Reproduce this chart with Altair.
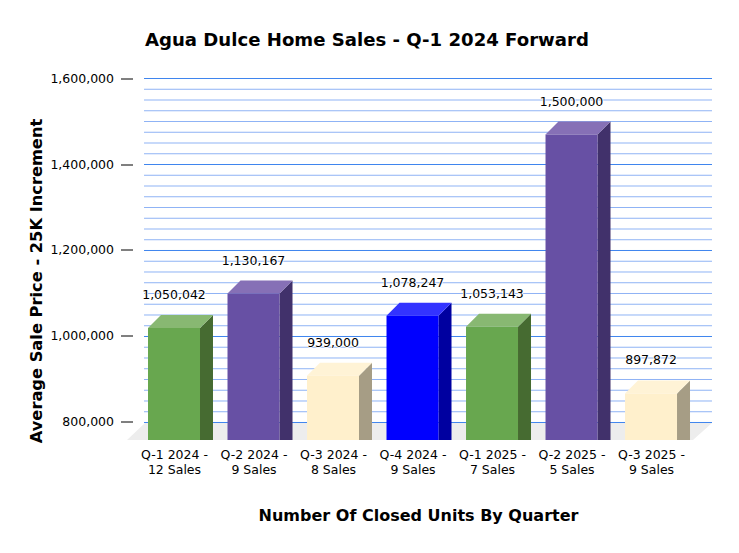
import json
import altair as alt
import pandas as pd

alt.data_transformers.disable_max_rows()

LINE1 = ["Q-1 2024 -", "Q-2 2024 -", "Q-3 2024 -", "Q-4 2024 -", "Q-1 2025 -", "Q-2 2025 -", "Q-3 2025 -"]
LINE2 = ["12 Sales", "9 Sales", "8 Sales", "9 Sales", "7 Sales", "5 Sales", "9 Sales"]
VALUES = [1050042, 1130167, 939000, 1078247, 1053143, 1500000, 897872]
FRONT = ["#68A74F", "#6750A4", "#FFF0CC", "#0000FF", "#68A74F", "#6750A4", "#FFF0CC"]
TOP = ["#88B872", "#8670B6", "#FFF3D6", "#3333FF", "#88B872", "#8670B6", "#FFF3D6"]
SIDE = ["#466B31", "#41316B", "#A69D85", "#0000A0", "#466B31", "#41316B", "#A69D85"]
MAJOR = [800000, 1000000, 1200000, 1400000, 1600000]
MINOR = [v for v in range(800000, 1600001, 25000) if v not in MAJOR]

HALF = 0.327      # half of a bar's width, in slots
DX = 0.1635       # depth of a bar, in slots
DY = 30233        # depth of a bar, in price units
FLOOR = 759302    # price value of the front floor edge
BACK = 798800     # price value of the back floor edge
WALL = (-0.377, 6.767)
FLOOR_X = (-0.591, -0.365, 6.528, 6.767)
X_DOM = [-0.5157, 6.767]
Y_DOM = [FLOOR, 1601163]

x_scale = alt.Scale(domain=X_DOM, nice=False, zero=False)
y_scale = alt.Scale(domain=Y_DOM, nice=False, zero=False)
FONT = "DejaVu Sans"

front = pd.DataFrame({
    "l": [i - HALF for i in range(7)], "r": [i + HALF for i in range(7)],
    "t": [v - DY for v in VALUES], "b": FLOOR, "c": FRONT,
})
side_rows, top_rows = [], []
for i, v in enumerate(VALUES):
    side_rows += [
        dict(id=i, x=i + HALF, y=v - DY, y2=FLOOR, c=SIDE[i]),
        dict(id=i, x=i + HALF + DX, y=v, y2=FLOOR, c=SIDE[i]),
    ]
    top_rows += [
        dict(id=i, x=i - HALF, y=v - DY, y2=v - DY, c=TOP[i]),
        dict(id=i, x=i - HALF + DX, y=v, y2=v - DY, c=TOP[i]),
        dict(id=i, x=i + HALF, y=v, y2=v - DY, c=TOP[i]),
        dict(id=i, x=i + HALF + DX, y=v, y2=v, c=TOP[i]),
    ]
side = pd.DataFrame(side_rows)
top = pd.DataFrame(top_rows)
floor = pd.DataFrame({
    "x": FLOOR_X, "y": [FLOOR, BACK, BACK, BACK], "y2": [FLOOR, FLOOR, FLOOR, BACK],
})
labels = pd.DataFrame({"i": list(range(7)), "v": VALUES})
grid = pd.DataFrame(
    [dict(v=v, a=WALL[0], b=WALL[1], c="#8FB3F5") for v in MINOR]
    + [dict(v=v, a=WALL[0], b=WALL[1], c="#3F85EE") for v in MAJOR]
)
tick_expr = json.dumps([[a, b] for a, b in zip(LINE1, LINE2)]) + "[datum.value]"

x_axis = alt.Axis(
    values=list(range(7)), labelExpr=tick_expr, domain=False, ticks=False, grid=False,
    labelFont=FONT, labelFontSize=12.5, labelColor="#000000", labelPadding=8,
    labelLineHeight=15, labelOverlap=False, labelFlush=False, labelBound=False, labelAngle=0,
    title="Number Of Closed Units By Quarter", titleFont=FONT, titleFontSize=16,
    titleFontWeight="bold", titleColor="#000000", titleX=285, titleY=80, titleBaseline="alphabetic",
)
y_axis = alt.Axis(
    values=MAJOR, labelExpr="format(datum.value, ',')", domain=False, grid=False,
    tickColor="#000000", tickSize=12,
    tickWidth=1, translate=0, labelFont=FONT, labelFontSize=12.5, labelColor="#000000",
    labelPadding=7, labelOverlap=False, labelFlush=False, labelBound=False,
    title="Average Sale Price - 25K Increment", titleFont=FONT, titleFontSize=16.25,
    titleFontWeight="bold", titleColor="#000000", titleX=-91, titleY=203, titleAngle=-90,
    titleBaseline="alphabetic",
)
X = lambda f: alt.X(f, scale=x_scale, axis=x_axis)
Y = lambda f, **k: alt.Y(f, scale=y_scale, axis=y_axis, **k)

floor_layer = alt.Chart(floor).mark_area(color="#EDEDED").encode(
    x=X("x:Q"), y=Y("y:Q", stack=None), y2="y2:Q",
)
grid_layer = alt.Chart(grid).mark_rule(strokeWidth=1).encode(
    y=Y("v:Q"), x=X("a:Q"), x2="b:Q",
    color=alt.Color("c:N", scale=None),
)
front_layer = alt.Chart(front).mark_rect().encode(
    x=X("l:Q"), x2="r:Q", y=Y("t:Q"), y2="b:Q",
    color=alt.Color("c:N", scale=None),
)


def face(df):
    return alt.Chart(df).mark_area().encode(
        x=X("x:Q"), y=Y("y:Q", stack=None), y2="y2:Q",
        color=alt.Color("c:N", scale=None), detail="id:N",
    )


halo = alt.Chart(labels).mark_text(
    font=FONT, fontSize=12.5, dy=-20, stroke="#FFFFFF", strokeWidth=1.5, fill="#FFFFFF"
).encode(x=X("i:Q"), y=Y("v:Q"), text=alt.Text("v:Q", format=","))
text = alt.Chart(labels).mark_text(font=FONT, fontSize=12.5, dy=-20, color="#000000").encode(
    x=X("i:Q"), y=Y("v:Q"), text=alt.Text("v:Q", format=","),
)

chart = alt.layer(
    floor_layer, grid_layer, face(side), face(top), front_layer, halo, text
).properties(
    width=579, height=362, background="#FFFFFF",
    title=alt.TitleParams(
        "Agua Dulce Home Sales - Q-1 2024 Forward", anchor="start", frame="group", dx=12,
        offset=22, font=FONT, fontSize=18.1, fontWeight="bold", color="#000000",
    ),
    autosize=alt.AutoSizeParams(type="none"),
    padding={"left": 125, "top": 70, "right": 19, "bottom": 105},
).configure_view(stroke=None)

chart.save("out.html", embed_options={"renderer": "svg", "actions": False})
